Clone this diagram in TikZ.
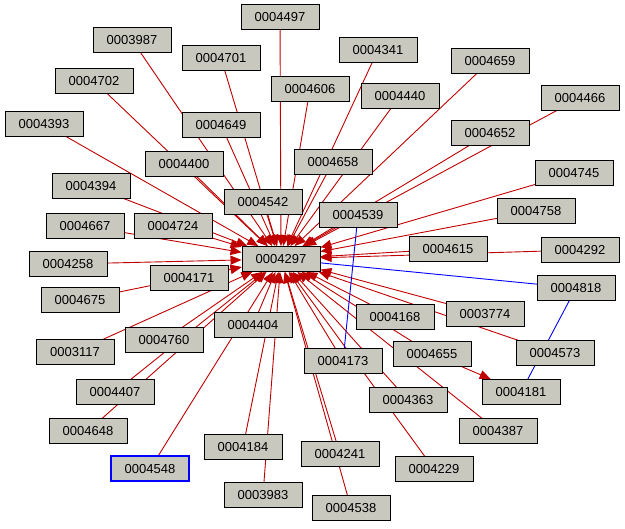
\documentclass[tikz,border=0pt]{standalone}
\usepackage{fontspec}
\setmainfont{Liberation Sans}
\usetikzlibrary{arrows.meta}
\definecolor{nodegray}{RGB}{200,200,190}
\definecolor{edgered}{RGB}{192,0,0}
\begin{document}
\begin{tikzpicture}[x=1pt,y=-1pt,
  nd/.style={draw=black,line width=0.9pt,fill=nodegray,minimum width=78pt,minimum height=25pt,inner sep=0pt,font=\fontsize{13}{15}\selectfont},
  ed/.style={draw=edgered,line width=0.9pt,-{Triangle[length=11pt,width=9pt]},edgered},
  bl/.style={draw=blue,line width=0.9pt}]
\useasboundingbox (0,0) rectangle (625,529);
\foreach \n/\x/\y in {
4497/280/17, 3987/132/40, 4701/221/58, 4341/378/50, 4659/490/61, 4702/94/81,
4606/310/89, 4440/400/96, 4466/580/98, 4393/44/124, 4649/221/125, 4652/490/133,
4400/184/164, 4658/333/162, 4745/574/173, 4394/91/186, 4542/263/202, 4539/358/215,
4758/536/211, 4667/85/226, 4724/173/226, 4615/448/249, 4292/580/250, 4258/68/264,
4171/189/278, 4675/80/300, 3774/485/314, 4168/395/317, 4404/253/325, 4760/164/340,
3117/75/352, 4655/432/354, 4573/555/353, 4173/343/361, 4407/115/392, 4363/408/400,
4648/88/431, 4387/498/431, 4184/243/447, 4241/340/454, 4548/150/469, 4229/434/469,
3983/263/495, 4538/351/508, 4818/576/288, 4181/521/392}
  {\coordinate (c\n) at (\x,\y);}
\node[nd,draw=none,fill=none] (n4297) at (281,259) {};
\foreach \n in {4497,3987,4701,4341,4659,4702,4606,4440,4466,4393,4649,4652,4400,4658,4745,4394,4542,4539,4758,4667,4724,4615,4292,4258,4171,4675,3774,4168,4404,4760,3117,4655,4573,4173,4407,4363,4648,4387,4184,4241,4548,4229,3983,4538}
  {\draw[ed] (c\n) -- (n4297);}
\draw[bl] (c4539) -- (c4173);
\draw[bl] (n4297) -- (c4818);
\draw[bl] (c4818) -- (c4181);
\foreach \n in {4497,3987,4701,4341,4659,4702,4606,4440,4466,4393,4649,4652,4400,4658,4745,4394,4542,4539,4758,4667,4724,4615,4292,4258,4171,4675,3774,4168,4404,4760,3117,4655,4573,4173,4407,4363,4648,4387,4184,4241,4229,3983,4538,4818,4181}
  {\node[nd] (m\n) at (c\n) {000\n};}
\node[nd,draw=blue,line width=2pt] (m4548) at (c4548) {0004548};
\draw[ed] (m4655) -- (m4181);
\node[nd] (m4297) at (281,259) {0004297};
\end{tikzpicture}
\end{document}
